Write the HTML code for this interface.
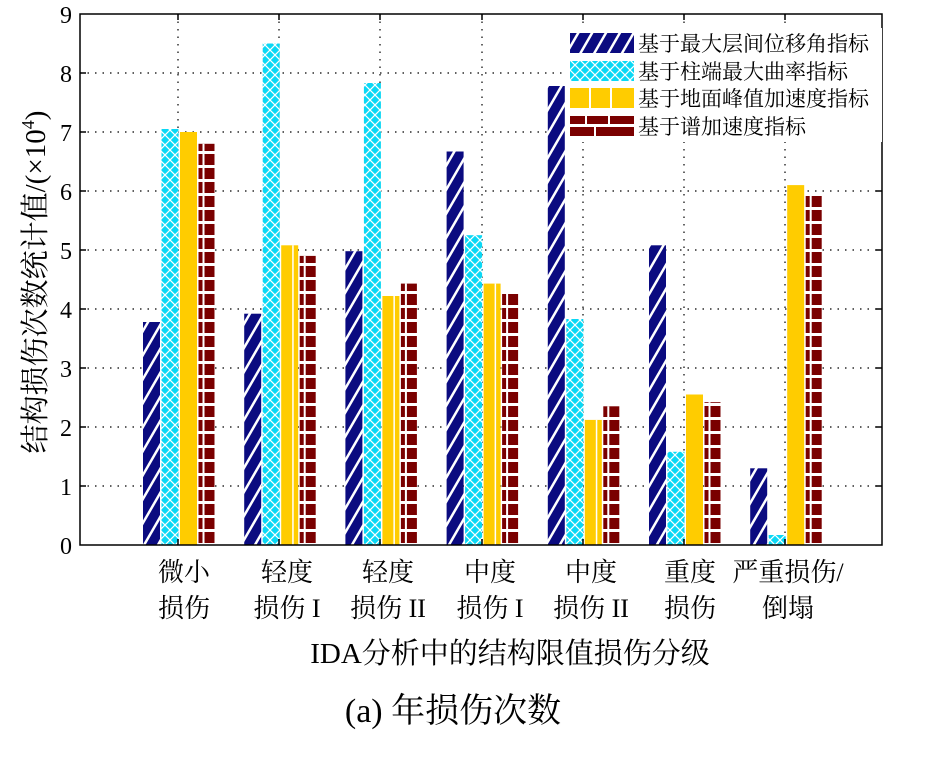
<!DOCTYPE html><html><head><meta charset="utf-8"><style>body{margin:0;background:#fff}svg{display:block}text{font-family:"Liberation Serif","Noto Serif CJK SC","Noto Sans CJK SC",serif;fill:#000}</style></head><body>
<svg width="930" height="772" viewBox="0 0 930 772">
<defs>
<pattern id="pN" width="12" height="12" patternUnits="userSpaceOnUse" patternTransform="rotate(30)"><rect width="12" height="12" fill="#0b0b80"/><rect width="2.5" height="12" fill="#fff"/></pattern>
<pattern id="pC" width="10" height="10" patternUnits="userSpaceOnUse"><rect width="10" height="10" fill="#0ad8f5"/><path d="M0 0L10 10M10 0L0 10" stroke="#fff" stroke-width="1.2"/></pattern>
<pattern id="pR" width="16" height="14" patternUnits="userSpaceOnUse"><rect width="16" height="14" fill="#7a0000"/><rect y="11" width="16" height="3" fill="#fff"/></pattern>
</defs>
<g stroke="#000" stroke-width="1.2" stroke-dasharray="1.5,6" fill="none">
<path d="M178 14V545M279 14V545M380 14V545M482 14V545M583 14V545M684 14V545M785 14V545"/>
<path d="M80 486H882M80 427H882M80 368H882M80 309H882M80 250H882M80 191H882M80 132H882M80 73H882"/>
</g>
<g fill="url(#pN)">
<rect x="143" y="322" width="17" height="223"/>
<rect x="244.2" y="313.7" width="17" height="231.3"/>
<rect x="345.4" y="251.2" width="17" height="293.8"/>
<rect x="446.6" y="151.5" width="17" height="393.5"/>
<rect x="547.8" y="86" width="17" height="459"/>
<rect x="649" y="245.3" width="17" height="299.7"/>
<rect x="750.2" y="468.3" width="17" height="76.7"/>
</g>
<g fill="url(#pC)">
<rect x="161.5" y="129" width="17" height="416"/>
<rect x="262.7" y="43.5" width="17" height="501.5"/>
<rect x="363.9" y="83" width="17" height="462"/>
<rect x="465.1" y="235.2" width="17" height="309.8"/>
<rect x="566.3" y="319" width="17" height="226"/>
<rect x="667.5" y="451.8" width="17" height="93.2"/>
<rect x="768.7" y="535" width="17" height="10"/>
</g>
<g fill="#ffcc00">
<rect x="180" y="132" width="17" height="413"/>
<rect x="281.2" y="245.3" width="17" height="299.7"/>
<rect x="382.4" y="296" width="17" height="249"/>
<rect x="483.6" y="283.6" width="17" height="261.4"/>
<rect x="584.8" y="419.9" width="17" height="125.1"/>
<rect x="686" y="394.5" width="17" height="150.5"/>
<rect x="787.2" y="185.1" width="17" height="359.9"/>
</g>
<g fill="#fff">
<rect x="292.2" y="245.3" width="1.5" height="299.7"/>
<rect x="393.4" y="296" width="1.5" height="249"/>
<rect x="494.6" y="283.6" width="1.5" height="261.4"/>
<rect x="595.8" y="419.9" width="1.5" height="125.1"/>
</g>
<g fill="url(#pR)">
<rect x="198.5" y="143.8" width="16" height="401.2"/>
<rect x="299.7" y="255.9" width="16" height="289.1"/>
<rect x="400.9" y="283.6" width="16" height="261.4"/>
<rect x="502.1" y="291.3" width="16" height="253.7"/>
<rect x="603.3" y="406.3" width="16" height="138.7"/>
<rect x="704.5" y="402.2" width="16" height="142.8"/>
<rect x="805.7" y="195.1" width="16" height="349.9"/>
</g>
<g fill="#fff">
<rect x="202.5" y="143.8" width="2" height="401.2"/>
<rect x="303.7" y="255.9" width="2" height="289.1"/>
<rect x="404.9" y="283.6" width="2" height="261.4"/>
<rect x="506.1" y="291.3" width="2" height="253.7"/>
<rect x="607.3" y="406.3" width="2" height="138.7"/>
<rect x="708.5" y="402.2" width="2" height="142.8"/>
<rect x="809.7" y="195.1" width="2" height="349.9"/>
</g>
<rect x="80" y="14" width="802" height="531" fill="none" stroke="#000" stroke-width="1.5"/>
<g stroke="#000" stroke-width="1.5"><path d="M80 486h6M80 427h6M80 368h6M80 309h6M80 250h6M80 191h6M80 132h6M80 73h6M882 486h-6M882 427h-6M882 368h-6M882 309h-6M882 250h-6M882 191h-6M882 132h-6M882 73h-6M178 545v-6M279 545v-6M380 545v-6M482 545v-6M583 545v-6M684 545v-6M785 545v-6M178 14v6M279 14v6M380 14v6M482 14v6M583 14v6M684 14v6M785 14v6"/></g>
<g font-size="24" text-anchor="end"><text x="72" y="554">0</text><text x="72" y="495">1</text><text x="72" y="436">2</text><text x="72" y="377">3</text><text x="72" y="318">4</text><text x="72" y="259">5</text><text x="72" y="200">6</text><text x="72" y="141">7</text><text x="72" y="82">8</text><text x="72" y="23">9</text></g>
<g font-size="26" text-anchor="middle">
<text x="184" y="581">微小</text><text x="184" y="617">损伤</text>
<text x="287" y="581">轻度</text><text x="287" y="617">损伤 I</text>
<text x="388" y="581">轻度</text><text x="388" y="617">损伤 II</text>
<text x="490" y="581">中度</text><text x="490" y="617">损伤 I</text>
<text x="591" y="581">中度</text><text x="591" y="617">损伤 II</text>
<text x="690" y="581">重度</text><text x="690" y="617">损伤</text>
<text x="788" y="581">严重损伤/</text><text x="788" y="617">倒塌</text>
<text x="510" y="663" font-size="29">IDA分析中的结构限值损伤分级</text>
<text x="453" y="722" font-size="34">(a)  年损伤次数</text>
</g>
<text transform="translate(45,282) rotate(-90)" font-size="29" text-anchor="middle">结构损伤次数统计值/(×10<tspan font-size="18" dy="-11">4</tspan><tspan dy="11">)</tspan></text>
<rect x="566" y="28" width="316" height="114" fill="#fff"/>
<rect x="570" y="33" width="64" height="20" fill="url(#pN)"/>
<rect x="570" y="61" width="64" height="20" fill="url(#pC)"/>
<rect x="570" y="88" width="64" height="20" fill="#ffcc00"/>
<g fill="#fff"><rect x="589" y="88" width="2" height="20"/><rect x="610" y="88" width="2" height="20"/></g>
<rect x="570" y="116" width="64" height="20" fill="#7a0000"/>
<g fill="#fff"><rect x="570" y="124" width="64" height="3"/><rect x="585" y="116" width="2" height="8"/><rect x="608" y="116" width="2" height="8"/><rect x="594" y="127" width="2" height="9"/></g>
<g font-size="21"><text x="638" y="51">基于最大层间位移角指标</text><text x="638" y="79">基于柱端最大曲率指标</text><text x="638" y="106">基于地面峰值加速度指标</text><text x="638" y="134">基于谱加速度指标</text></g>
</svg></body></html>
